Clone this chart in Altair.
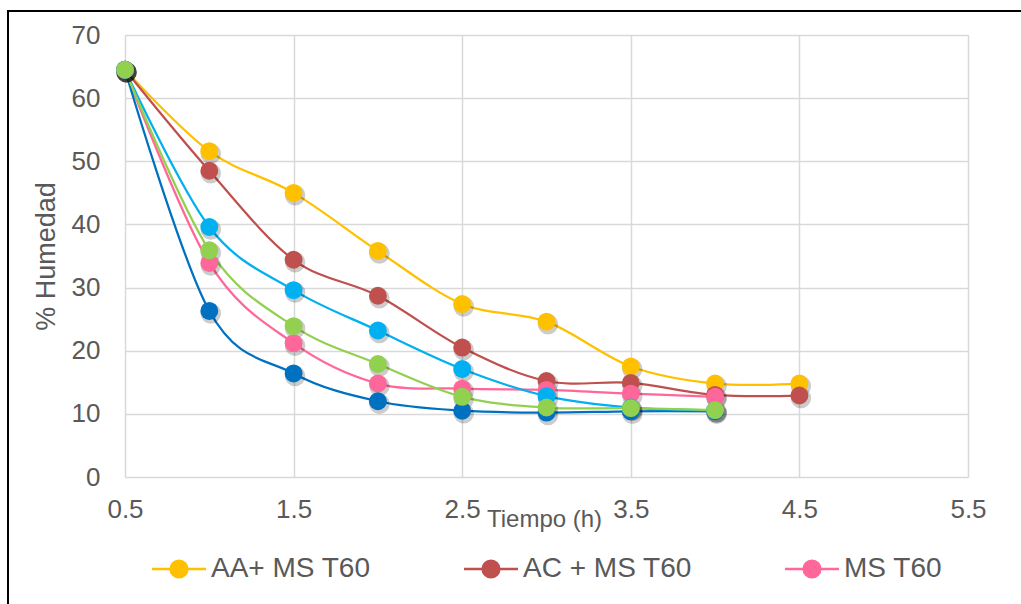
import altair as alt
import pandas as pd

# ---- data ----
tiempo = [0.5, 1.0, 1.5, 2.0, 2.5, 3.0, 3.5, 4.0, 4.5]
series = ["AA+ MS T60", "AC + MS T60", "MS T60", "Serie 4", "Serie 5", "Serie 6"]
colors = ["#FFC000", "#C0504D", "#FF6699", "#0070C0", "#00B0F0", "#92D050"]
aa_ms = [64.5, 51.6, 45.0, 35.8, 27.4, 24.6, 17.5, 14.8, 14.8]
ac_ms = [64.5, 48.5, 34.4, 28.7, 20.5, 15.2, 14.9, 13.0, 12.9]
ms = [64.5, 33.9, 21.2, 14.8, 14.0, 13.8, 13.2, 12.7]
serie4 = [64.5, 26.3, 16.4, 12.0, 10.5, 10.2, 10.4, 10.4]
serie5 = [64.5, 39.6, 29.6, 23.2, 17.1, 12.8, 11.0, 10.6]
serie6 = [64.5, 35.9, 23.9, 17.9, 12.7, 11.0, 10.9, 10.6]
legend_values = ["AA+ MS T60", "AC + MS T60", "MS T60"]
x_ticks = [0.5, 1.5, 2.5, 3.5, 4.5, 5.5]
y_ticks = [0, 10, 20, 30, 40, 50, 60, 70]

rows = []
for k, (name, vals) in enumerate(zip(series, [aa_ms, ac_ms, ms, serie4, serie5, serie6])):
    for t, v in zip(tiempo, vals):
        rows.append({"serie": name, "tiempo": t, "humedad": v, "k": k})
df = pd.DataFrame(rows)

FONT = "Liberation Sans"
GREY = "#595959"

x_enc = alt.X(
    "tiempo:Q",
    scale=alt.Scale(domain=[0.5, 5.5], nice=False, zero=False),
    axis=alt.Axis(
        values=x_ticks, format=".1f", labelFlush=False, labelOverlap=False,
        labelFontSize=26, labelColor=GREY, labelFont=FONT, labelPadding=19,
        ticks=False, domain=False, grid=True, gridColor="#D9D9D9", gridWidth=1.5,
        title="Tiempo (h)", titleFontSize=24, titleFont=FONT, titleFontWeight="normal",
        titleColor=GREY, titleY=42, titleX=419, titleBaseline="middle",
    ),
)
y_enc = alt.Y(
    "humedad:Q",
    scale=alt.Scale(domain=[0, 70], nice=False),
    axis=alt.Axis(
        values=y_ticks, labelFlush=False, labelOverlap=False,
        labelFontSize=26, labelColor=GREY, labelFont=FONT, labelPadding=25,
        ticks=False, domain=False, grid=True, gridColor="#D9D9D9", gridWidth=1.5,
        title="% Humedad", titleFontSize=27, titleFont=FONT, titleFontWeight="normal",
        titleColor=GREY, titleX=-79, titleBaseline="middle",
    ),
)

sym_path = (
    "M-3,0H3 "
    "M0.93,0A0.93,0.93,0,1,1,-0.93,0A0.93,0.93,0,1,1,0.93,0 "
    "M0.72,0A0.72,0.72,0,1,1,-0.72,0A0.72,0.72,0,1,1,0.72,0 "
    "M0.51,0A0.51,0.51,0,1,1,-0.51,0A0.51,0.51,0,1,1,0.51,0 "
    "M0.3,0A0.3,0.3,0,1,1,-0.3,0A0.3,0.3,0,1,1,0.3,0 "
    "M0.1,0A0.1,0.1,0,1,1,-0.1,0A0.1,0.1,0,1,1,0.1,0"
)

base = alt.Chart(df)

frame = alt.Chart(pd.DataFrame({"a": [0]})).mark_rect(
    fill="transparent", stroke="#000000", strokeWidth=2
).encode(
    x=alt.value(-117), x2=alt.value(1200), y=alt.value(-24), y2=alt.value(800)
)

lines = base.mark_line(interpolate="cardinal", strokeWidth=2.25).encode(
    x=x_enc,
    y=y_enc,
    color=alt.Color(
        "serie:N",
        scale=alt.Scale(domain=series, range=colors),
        legend=alt.Legend(
            values=legend_values, title=None, orient="none", direction="horizontal",
            columns=3, legendX=40, legendY=520,
            symbolType=sym_path, symbolSize=324, symbolStrokeWidth=2.5,
            labelFontSize=28, labelFont=FONT, labelColor=GREY, labelOffset=18,
            columnPadding=88, labelLimit=400,
        ),
    ),
    detail="k:O",
)

shadows = base.mark_circle(
    size=420, color="#000000", opacity=0.2, xOffset=1.5, yOffset=2.5
).encode(x="tiempo:Q", y="humedad:Q")

points = base.mark_circle(size=320, opacity=1).encode(
    x="tiempo:Q",
    y="humedad:Q",
    fill=alt.Fill("serie:N", scale=alt.Scale(domain=series, range=colors), legend=None),
    order="k:Q",
)

chart = alt.layer(frame, lines, shadows, points).properties(
    width=843,
    height=442,
    autosize=alt.AutoSizeParams(type="none"),
    padding={"left": 125, "top": 35, "right": 53, "bottom": 127},
    background="white",
).configure_view(stroke=None)

chart.save("out.html", embed_options={"renderer": "svg", "actions": False})
